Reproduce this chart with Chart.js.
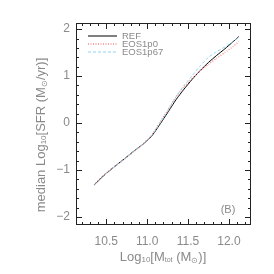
<!DOCTYPE html>
<html>
<head>
<meta charset="utf-8">
<script src="https://cdn.jsdelivr.net/npm/chart.js@4"></script>
<style>
  html, body { margin: 0; padding: 0; background: #fff; }
  #wrap { width: 274px; height: 274px; }
</style>
</head>
<body>
<div id="wrap"><canvas id="sfrChart" width="274" height="274"></canvas></div>
<script>
// datos
var masas = [10.35, 10.45, 10.55, 10.65, 10.75, 10.85, 10.95, 11.05, 11.12, 11.25, 11.35, 11.45, 11.55, 11.65, 11.75, 11.85, 11.95, 12.05, 12.12];
var sfrRef = [-1.32, -1.15, -1.00, -0.86, -0.72, -0.58, -0.45, -0.29, -0.12, 0.22, 0.49, 0.72, 0.93, 1.12, 1.29, 1.44, 1.58, 1.73, 1.84];
var sfrEos1p0 = [-1.31, -1.14, -0.99, -0.86, -0.73, -0.59, -0.45, -0.27, -0.08, 0.27, 0.55, 0.77, 0.95, 1.11, 1.25, 1.38, 1.50, 1.63, 1.73];
var sfrEos1p67 = [-1.33, -1.16, -1.00, -0.86, -0.72, -0.58, -0.45, -0.28, -0.10, 0.25, 0.55, 0.80, 1.01, 1.22, 1.40, 1.52, 1.62, 1.73, 1.83];
var xTicks = [10.5, 11.0, 11.5, 12.0];
var yTicks = [-2, -1, 0, 1, 2];
var nombresSeries = ['REF', 'EOS1p0', 'EOS1p67'];

var gris = '#8a8a8a';
var fuente = '"Liberation Sans", Arial, sans-serif';

function puntos(ys) {
    return masas.map(function (m, i) { return { x: m, y: ys[i] }; });
}

// dibuja trozos de texto con subindices
function textoCompuesto(ctx, piezas, cx, cy) {
    var total = 0;
    piezas.forEach(function (p) {
        ctx.font = p[1] + 'px ' + fuente;
        p.w = ctx.measureText(p[0]).width;
        total += p.w;
    });
    var x = cx - total / 2;
    ctx.textBaseline = 'middle';
    ctx.textAlign = 'left';
    piezas.forEach(function (p) {
        ctx.font = p[1] + 'px ' + fuente;
        ctx.fillText(p[0], x, cy + (p[2] || 0));
        x += p.w;
    });
}

var marcoIdl = {
    id: 'marcoIdl',
    afterDraw: function (chart) {
        var ctx = chart.ctx;
        var xs = chart.scales.x, ys = chart.scales.y;
        var a = chart.chartArea;
        ctx.save();
        ctx.strokeStyle = '#222';
        ctx.lineWidth = 1;
        ctx.strokeRect(a.left + 0.5, a.top + 0.5, a.right - a.left - 1, a.bottom - a.top - 1);

        ctx.beginPath();
        // ticks eje x
        for (var k = 102; k <= 122; k++) {
            var v = k / 10;
            var px = Math.round(xs.getPixelForValue(v)) + 0.5;
            var largo = (k % 5 === 0) ? 6 : 3;
            ctx.moveTo(px, a.bottom); ctx.lineTo(px, a.bottom - largo);
            ctx.moveTo(px, a.top); ctx.lineTo(px, a.top + largo);
        }
        // ticks eje y
        for (var j = -10; j <= 10; j++) {
            var vy = j / 5;
            var py = Math.round(ys.getPixelForValue(vy)) + 0.5;
            var largoY = (j % 5 === 0) ? 6 : 3;
            ctx.moveTo(a.left, py); ctx.lineTo(a.left + largoY, py);
            ctx.moveTo(a.right, py); ctx.lineTo(a.right - largoY, py);
        }
        ctx.stroke();

        // leyenda
        var estilos = [
            { color: '#000', dash: [], ancho: 1 },
            { color: '#f08a8a', dash: [1, 1.5], ancho: 1.3 },
            { color: '#8fd3f0', dash: [3, 2], ancho: 1 }
        ];
        for (var i = 0; i < nombresSeries.length; i++) {
            var ly = 36 + i * 8;
            ctx.beginPath();
            ctx.strokeStyle = estilos[i].color;
            ctx.lineWidth = estilos[i].ancho;
            ctx.setLineDash(estilos[i].dash);
            ctx.moveTo(88, ly); ctx.lineTo(117, ly);
            ctx.stroke();
            ctx.setLineDash([]);
            ctx.fillStyle = gris;
            ctx.font = '9.5px ' + fuente;
            ctx.textAlign = 'left';
            ctx.textBaseline = 'middle';
            ctx.fillText(nombresSeries[i], 122, ly);
        }

        // etiqueta del panel
        ctx.font = '11px ' + fuente;
        ctx.textAlign = 'center';
        ctx.fillText('(B)', 228, 210);

        // titulo eje x
        ctx.fillStyle = gris;
        textoCompuesto(ctx, [
            ['Log', 13], ['10', 8, 3], ['[M', 13], ['tot', 7, 3],
            [' (M', 13], ['\u2299', 8, 4], [')]', 13]
        ], 163, 257);

        // titulo eje y
        ctx.translate(41, 135);
        ctx.rotate(-Math.PI / 2);
        textoCompuesto(ctx, [
            ['median Log', 13], ['10', 8, 3], ['[SFR (M', 13], ['\u2299', 8, 4],
            ['/yr)]', 13]
        ], 0, 0);
        ctx.restore();
    }
};

window.onload = function () {
    var config = {
        type: 'line',
        data: {
            datasets: [
                {
                    label: nombresSeries[0],
                    data: puntos(sfrRef),
                    borderColor: '#000',
                    borderWidth: 1,
                    pointRadius: 0,
                    tension: 0.15,
                    order: 3
                },
                {
                    label: nombresSeries[1],
                    data: puntos(sfrEos1p0),
                    borderColor: '#f08a8a',
                    borderWidth: 1.3,
                    borderDash: [1, 1.5],
                    pointRadius: 0,
                    tension: 0.15,
                    order: 2
                },
                {
                    label: nombresSeries[2],
                    data: puntos(sfrEos1p67),
                    borderColor: '#8fd3f0',
                    borderWidth: 1,
                    borderDash: [3, 2],
                    pointRadius: 0,
                    tension: 0.15,
                    order: 1
                }
            ]
        },
        options: {
            responsive: false,
            animation: false,
            layout: { padding: { left: 0, right: 23, top: 23, bottom: 0 } },
            plugins: { legend: { display: false }, tooltip: { enabled: false } },
            scales: {
                x: {
                    type: 'linear',
                    min: 10.13,
                    max: 12.27,
                    afterBuildTicks: function (s) { s.ticks = xTicks.map(function (v) { return { value: v }; }); },
                    afterFit: function (s) { s.height = 49; },
                    grid: { display: false, drawTicks: false },
                    border: { display: false },
                    ticks: {
                        color: gris,
                        padding: 9,
                        font: { family: fuente, size: 12 },
                        callback: function (v) { return v.toFixed(1); }
                    }
                },
                y: {
                    type: 'linear',
                    min: -2.17,
                    max: 2.13,
                    afterBuildTicks: function (s) { s.ticks = yTicks.map(function (v) { return { value: v }; }); },
                    afterFit: function (s) { s.width = 76; },
                    grid: { display: false, drawTicks: false },
                    border: { display: false },
                    ticks: {
                        color: gris,
                        padding: 6,
                        font: { family: fuente, size: 12 },
                        callback: function (v) { return String(v).replace('-', '\u2212'); }
                    }
                }
            }
        },
        plugins: [marcoIdl]
    };

    var myChart = new Chart(document.getElementById('sfrChart'), config);
};
</script>
</body>
</html>
